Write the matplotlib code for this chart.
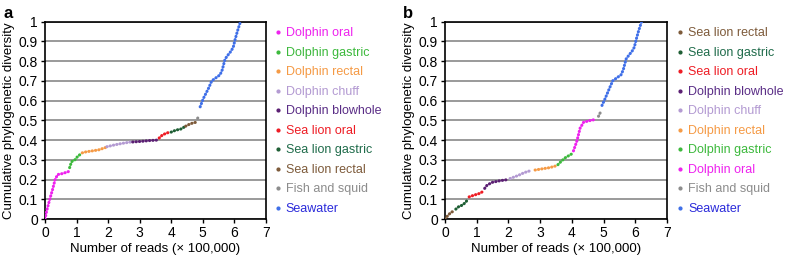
import matplotlib
matplotlib.use("Agg")
from matplotlib import pyplot as plt
from matplotlib.lines import Line2D

plt.rcParams['font.family'] = ['Liberation Sans', 'DejaVu Sans']

# colours per sample type
colors = {
    "Dolphin oral": "#EE22EE",
    "Dolphin gastric": "#3CB93C",
    "Dolphin rectal": "#F59A45",
    "Dolphin chuff": "#B39AD2",
    "Dolphin blowhole": "#5B1F73",
    "Sea lion oral": "#EE1C24",
    "Sea lion gastric": "#1E5E34",
    "Sea lion rectal": "#7D5A3A",
    "Fish and squid": "#8C8C8C",
    "Seawater": "#3F6FE8",
}
text_colors = dict(colors)
text_colors["Dolphin blowhole"] = "#5A2D86"
text_colors["Sea lion gastric"] = "#1F6B4A"
text_colors["Seawater"] = "#2A2ADA"

# panel a: reads (x 100,000) and cumulative PD
a_order = ["Dolphin oral", "Dolphin gastric", "Dolphin rectal", "Dolphin chuff",
           "Dolphin blowhole", "Sea lion oral", "Sea lion gastric",
           "Sea lion rectal", "Fish and squid", "Seawater"]
a_x = {
    "Dolphin oral": [0.0, 0.05, 0.15, 0.24, 0.32, 0.40, 0.55, 0.74],
    "Dolphin gastric": [0.78, 0.84, 0.95, 1.05, 1.15],
    "Dolphin rectal": [1.18, 1.30, 1.50, 1.70, 1.92],
    "Dolphin chuff": [1.96, 2.20, 2.45, 2.72],
    "Dolphin blowhole": [2.78, 3.05, 3.30, 3.60],
    "Sea lion oral": [3.62, 3.72, 3.85, 3.97],
    "Sea lion gastric": [4.00, 4.15, 4.30, 4.42],
    "Sea lion rectal": [4.46, 4.58, 4.70, 4.80],
    "Fish and squid": [4.84, 4.88],
    "Seawater": [4.92, 5.02, 5.18, 5.29, 5.42, 5.55, 5.62, 5.71, 5.80, 5.90,
                 5.97, 6.03, 6.10, 6.20],
}
a_y = {
    "Dolphin oral": [0.0, 0.04, 0.10, 0.15, 0.20, 0.225, 0.23, 0.24],
    "Dolphin gastric": [0.26, 0.29, 0.30, 0.32, 0.33],
    "Dolphin rectal": [0.335, 0.34, 0.345, 0.35, 0.362],
    "Dolphin chuff": [0.366, 0.375, 0.383, 0.39],
    "Dolphin blowhole": [0.39, 0.393, 0.397, 0.40],
    "Sea lion oral": [0.41, 0.425, 0.435, 0.44],
    "Sea lion gastric": [0.44, 0.45, 0.455, 0.466],
    "Sea lion rectal": [0.47, 0.48, 0.487, 0.49],
    "Fish and squid": [0.51, 0.525],
    "Seawater": [0.568, 0.61, 0.66, 0.70, 0.715, 0.73, 0.755, 0.81, 0.83, 0.85,
                 0.87, 0.91, 0.95, 1.0],
}

# panel b
b_order = ["Sea lion rectal", "Sea lion gastric", "Sea lion oral",
           "Dolphin blowhole", "Dolphin chuff", "Dolphin rectal",
           "Dolphin gastric", "Dolphin oral", "Fish and squid", "Seawater"]
b_x = {
    "Sea lion rectal": [0.0, 0.1, 0.2, 0.3],
    "Sea lion gastric": [0.34, 0.45, 0.55, 0.65, 0.72],
    "Sea lion oral": [0.76, 0.9, 1.1, 1.2],
    "Dolphin blowhole": [1.25, 1.32, 1.47, 1.74, 2.0],
    "Dolphin chuff": [2.05, 2.3, 2.5, 2.7],
    "Dolphin rectal": [2.84, 3.1, 3.3, 3.52],
    "Dolphin gastric": [3.56, 3.65, 3.79, 4.0],
    "Dolphin oral": [4.05, 4.16, 4.26, 4.37, 4.53, 4.77],
    "Fish and squid": [4.84, 4.9],
    "Seawater": [4.95, 5.05, 5.18, 5.29, 5.42, 5.55, 5.62, 5.71, 5.80, 5.90,
                 5.97, 6.03, 6.10, 6.20],
}
b_y = {
    "Sea lion rectal": [0.0, 0.02, 0.035, 0.04],
    "Sea lion gastric": [0.05, 0.065, 0.07, 0.085, 0.10],
    "Sea lion oral": [0.112, 0.12, 0.13, 0.14],
    "Dolphin blowhole": [0.155, 0.17, 0.185, 0.194, 0.20],
    "Dolphin chuff": [0.205, 0.22, 0.235, 0.245],
    "Dolphin rectal": [0.248, 0.255, 0.26, 0.27],
    "Dolphin gastric": [0.275, 0.29, 0.31, 0.33],
    "Dolphin oral": [0.345, 0.396, 0.46, 0.49, 0.497, 0.505],
    "Fish and squid": [0.52, 0.54],
    "Seawater": [0.575, 0.61, 0.66, 0.70, 0.715, 0.73, 0.755, 0.81, 0.83, 0.85,
                 0.87, 0.91, 0.95, 1.0],
}


def draw_panel(ax, order, xs, ys, letter, leg_x):
    for name in order:
        ax.plot(xs[name], ys[name], color=colors[name], lw=2.2,
                ls=(0, (0.1, 1.0)), dash_capstyle='round', zorder=3)
    ax.set_xlim(0, 7)
    ax.set_ylim(0, 1)
    ax.set_xticks(range(8))
    ax.set_yticks([i / 10 for i in range(11)])
    ax.set_yticklabels(['0'] + [f'{i / 10:g}' for i in range(1, 10)] + ['1'])
    ax.yaxis.grid(True, color='#9a9a9a', lw=1.4)
    ax.set_axisbelow(True)
    for s in ax.spines.values():
        s.set_linewidth(1.2)
    ax.tick_params(labelsize=10, length=3, width=1, pad=2)
    ax.set_xlabel('Number of reads (\u00d7 100,000)', fontsize=9.5, labelpad=2)
    ax.set_ylabel('Cumulative phylogenetic diversity', fontsize=9.5, labelpad=3)
    ax.text(-0.19, 1.08, letter, transform=ax.transAxes, fontsize=12,
            fontweight='bold', va='top')
    handles = [Line2D([], [], marker='o', ms=2, ls='none', color=colors[n])
               for n in order]
    leg = ax.legend(handles, order, loc='upper left',
                    bbox_to_anchor=(leg_x, 0.995), frameon=False, fontsize=9,
                    handlelength=0.4, handletextpad=0.45, labelspacing=0.6,
                    borderaxespad=0)
    for t, n in zip(leg.get_texts(), order):
        t.set_color(text_colors[n])


fig = plt.figure(figsize=(7.86, 2.56), dpi=100)
ax1 = fig.add_axes([0.0573, 0.1445, 0.2808, 0.7715])
ax2 = fig.add_axes([0.5662, 0.1445, 0.2824, 0.7715])
draw_panel(ax1, a_order, a_x, a_y, 'a', 1.02)
draw_panel(ax2, b_order, b_x, b_y, 'b', 1.025)
fig.savefig('out.png', dpi=100)
